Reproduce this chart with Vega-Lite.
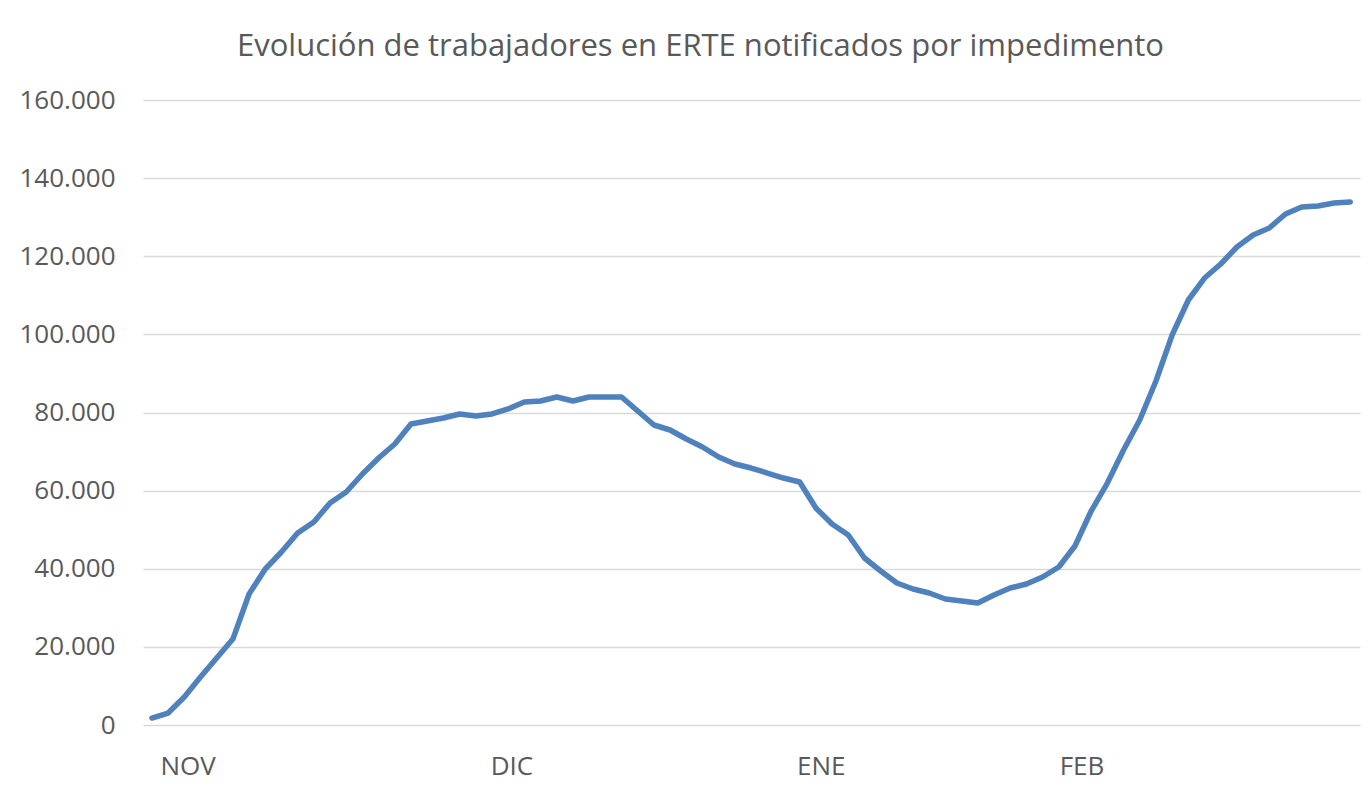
{
  "$schema": "https://vega.github.io/schema/vega-lite/v6.json",
  "width": 1217,
  "height": 625,
  "autosize": {"type": "none"},
  "padding": {"left": 143, "top": 100, "right": 10, "bottom": 63},
  "background": "white",
  "config": {
    "view": {"stroke": null},
    "font": "Open Sans",
    "locale": {"number": {"decimal": ",", "thousands": ".", "grouping": [3], "currency": ["", " €"]}}
  },
  "title": {
    "text": "Evolución de trabajadores en ERTE notificados por impedimento",
    "fontSize": 31,
    "font": "Open Sans",
    "fontWeight": "normal",
    "color": "#595959",
    "anchor": "middle",
    "baseline": "alphabetic",
    "offset": 0,
    "dx": -51
  },
  "data": {
    "values": [
      {"dia": 0, "trabajadores": 1790},
      {"dia": 1, "trabajadores": 3070},
      {"dia": 2, "trabajadores": 7170},
      {"dia": 3, "trabajadores": 12290},
      {"dia": 4, "trabajadores": 17150},
      {"dia": 5, "trabajadores": 22000},
      {"dia": 6, "trabajadores": 33540},
      {"dia": 7, "trabajadores": 39940},
      {"dia": 8, "trabajadores": 44290},
      {"dia": 9, "trabajadores": 49150},
      {"dia": 10, "trabajadores": 51970},
      {"dia": 11, "trabajadores": 56830},
      {"dia": 12, "trabajadores": 59650},
      {"dia": 13, "trabajadores": 64260},
      {"dia": 14, "trabajadores": 68350},
      {"dia": 15, "trabajadores": 71940},
      {"dia": 16, "trabajadores": 77060},
      {"dia": 17, "trabajadores": 77820},
      {"dia": 18, "trabajadores": 78600},
      {"dia": 19, "trabajadores": 79620},
      {"dia": 20, "trabajadores": 79100},
      {"dia": 21, "trabajadores": 79620},
      {"dia": 22, "trabajadores": 80900},
      {"dia": 23, "trabajadores": 82690},
      {"dia": 24, "trabajadores": 82940},
      {"dia": 25, "trabajadores": 83970},
      {"dia": 26, "trabajadores": 82940},
      {"dia": 27, "trabajadores": 83970},
      {"dia": 28, "trabajadores": 83970},
      {"dia": 29, "trabajadores": 83970},
      {"dia": 30, "trabajadores": 80380},
      {"dia": 31, "trabajadores": 76800},
      {"dia": 32, "trabajadores": 75520},
      {"dia": 33, "trabajadores": 73220},
      {"dia": 34, "trabajadores": 71170},
      {"dia": 35, "trabajadores": 68610},
      {"dia": 36, "trabajadores": 66820},
      {"dia": 37, "trabajadores": 65790},
      {"dia": 38, "trabajadores": 64510},
      {"dia": 39, "trabajadores": 63230},
      {"dia": 40, "trabajadores": 62210},
      {"dia": 41, "trabajadores": 55550},
      {"dia": 42, "trabajadores": 51460},
      {"dia": 43, "trabajadores": 48640},
      {"dia": 44, "trabajadores": 42750},
      {"dia": 45, "trabajadores": 39420},
      {"dia": 46, "trabajadores": 36350},
      {"dia": 47, "trabajadores": 34820},
      {"dia": 48, "trabajadores": 33790},
      {"dia": 49, "trabajadores": 32260},
      {"dia": 50, "trabajadores": 31740},
      {"dia": 51, "trabajadores": 31230},
      {"dia": 52, "trabajadores": 33280},
      {"dia": 53, "trabajadores": 35070},
      {"dia": 54, "trabajadores": 36100},
      {"dia": 55, "trabajadores": 37890},
      {"dia": 56, "trabajadores": 40450},
      {"dia": 57, "trabajadores": 45820},
      {"dia": 58, "trabajadores": 54780},
      {"dia": 59, "trabajadores": 61950},
      {"dia": 60, "trabajadores": 70400},
      {"dia": 61, "trabajadores": 78080},
      {"dia": 62, "trabajadores": 88060},
      {"dia": 63, "trabajadores": 99840},
      {"dia": 64, "trabajadores": 108800},
      {"dia": 65, "trabajadores": 114430},
      {"dia": 66, "trabajadores": 118020},
      {"dia": 67, "trabajadores": 122370},
      {"dia": 68, "trabajadores": 125440},
      {"dia": 69, "trabajadores": 127230},
      {"dia": 70, "trabajadores": 130820},
      {"dia": 71, "trabajadores": 132610},
      {"dia": 72, "trabajadores": 132860},
      {"dia": 73, "trabajadores": 133630},
      {"dia": 74, "trabajadores": 133890}
    ]
  },
  "mark": {"type": "line", "color": "#4F81BD", "strokeWidth": 5.5, "strokeCap": "round", "strokeJoin": "round"},
  "encoding": {
    "x": {
      "field": "dia",
      "type": "quantitative",
      "scale": {"domain": [-0.55, 74.6], "nice": false, "zero": false},
      "axis": {
        "title": null,
        "values": [2.2, 22.2, 41.3, 57.4],
        "labelExpr": "datum.value < 10 ? 'NOV' : datum.value < 30 ? 'DIC' : datum.value < 50 ? 'ENE' : 'FEB'",
        "grid": false,
        "domain": false,
        "ticks": false,
        "tickSize": 0,
        "labelPadding": 28,
        "labelFontSize": 26,
        "labelColor": "#595959",
        "labelFont": "Open Sans",
        "labelAlign": "center",
        "labelBaseline": "top",
        "labelFlush": false,
        "labelOverlap": false
      }
    },
    "y": {
      "field": "trabajadores",
      "type": "quantitative",
      "scale": {"domain": [0, 160000], "nice": false},
      "axis": {
        "title": null,
        "values": [0, 20000, 40000, 60000, 80000, 100000, 120000, 140000, 160000],
        "format": ",d",
        "grid": true,
        "gridColor": "#D9D9D9",
        "gridWidth": 1.5,
        "domain": false,
        "ticks": false,
        "tickSize": 0,
        "labelPadding": 28,
        "labelFontSize": 26,
        "labelColor": "#595959",
        "labelFont": "Open Sans",
        "labelBaseline": "middle",
        "labelFlush": false,
        "labelOverlap": false
      }
    }
  }
}
